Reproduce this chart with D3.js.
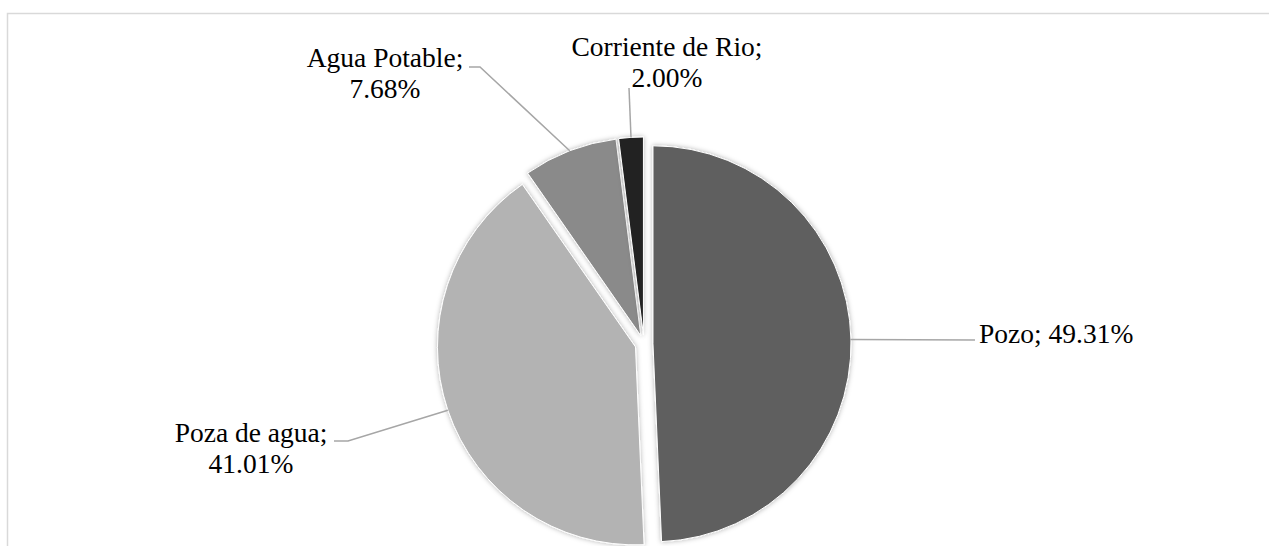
<!DOCTYPE html>
<html>
<head>
<meta charset="utf-8">
<script src="https://cdn.jsdelivr.net/npm/d3@7"></script>
<style>
  html, body { margin: 0; padding: 0; background: #fff; }
  svg { display: block; }
  text { font-family: "Liberation Serif", "Times New Roman", Times, serif; fill: #000; }
</style>
</head>
<body>
<svg id="chart" width="1269" height="546"></svg>
<script>
// Water source shares (%)
const categories = ["Pozo", "Poza de agua", "Agua Potable", "Corriente de Rio"];
const values = [49.31, 41.01, 7.68, 2.00];
const valueLabels = ["49.31%", "41.01%", "7.68%", "2.00%"];
const colors = ["#5f5f5f", "#b3b3b3", "#8a8a8a", "#222222"];

// Label placement: text lines, anchor point of text block and leader start
const labelLayout = [
  { lines: 1, x: 979, y: 343, anchor: "start", elbow: [[975, 340]] },
  { lines: 2, x: 251, y: 442, anchor: "middle", elbow: [[334, 441], [348, 441]] },
  { lines: 2, x: 385, y: 67, anchor: "middle", elbow: [[469, 67], [480, 67]] },
  { lines: 2, x: 667, y: 56, anchor: "middle", elbow: [[629, 88]] }
];

const cx = 644, cy = 344, radius = 198, explode = 9;
const fontSize = 27.5, lineHeight = 31;

const svg = d3.select("#chart");

// chart area frame
svg.append("rect")
  .attr("x", 7.5).attr("y", 13.5)
  .attr("width", 1400).attr("height", 700)
  .attr("fill", "#fff")
  .attr("stroke", "#d9d9d9")
  .attr("stroke-width", 1.5);

const defs = svg.append("defs");
const shadow = defs.append("filter").attr("id", "soft")
  .attr("x", "-20%").attr("y", "-20%").attr("width", "140%").attr("height", "140%");
shadow.append("feDropShadow")
  .attr("dx", 0).attr("dy", 0)
  .attr("stdDeviation", 2.5)
  .attr("flood-color", "#000")
  .attr("flood-opacity", 0.3);

const data = categories.map((c, i) => ({ name: c, value: values[i], label: valueLabels[i], color: colors[i] }));

const pie = d3.pie().value(d => d.value).sort(null);
const arcs = pie(data);
const arc = d3.arc().innerRadius(0).outerRadius(radius);

const g = svg.append("g").attr("transform", `translate(${cx},${cy})`);

// offset of each exploded slice along its mid angle
function offset(a) {
  const m = (a.startAngle + a.endAngle) / 2;
  return [explode * Math.sin(m), -explode * Math.cos(m)];
}

g.selectAll("path.slice")
  .data(arcs)
  .join("path")
  .attr("class", "slice")
  .attr("transform", a => { const o = offset(a); return `translate(${o[0]},${o[1]})`; })
  .attr("d", arc)
  .attr("fill", a => a.data.color)
  .attr("stroke", "#fff")
  .attr("stroke-width", 1)
  .attr("filter", "url(#soft)");

// leader lines from label to slice edge at mid angle
arcs.forEach((a, i) => {
  const o = offset(a);
  const m = (a.startAngle + a.endAngle) / 2;
  const edge = [cx + o[0] + radius * Math.sin(m), cy + o[1] - radius * Math.cos(m)];
  const pts = labelLayout[i].elbow.concat([edge]);
  svg.append("path")
    .attr("d", d3.line()(pts))
    .attr("fill", "none")
    .attr("stroke", "#a6a6a6")
    .attr("stroke-width", 1.5);
});

// labels
arcs.forEach((a, i) => {
  const L = labelLayout[i];
  const t = svg.append("text")
    .attr("x", L.x).attr("y", L.y)
    .attr("text-anchor", L.anchor)
    .attr("font-size", fontSize);
  const lines = L.lines === 1
    ? [a.data.name + "; " + a.data.label]
    : [a.data.name + ";", a.data.label];
  lines.forEach((s, k) => {
    t.append("tspan").attr("x", L.x).attr("dy", k === 0 ? 0 : lineHeight).text(s);
  });
});
</script>
</body>
</html>
